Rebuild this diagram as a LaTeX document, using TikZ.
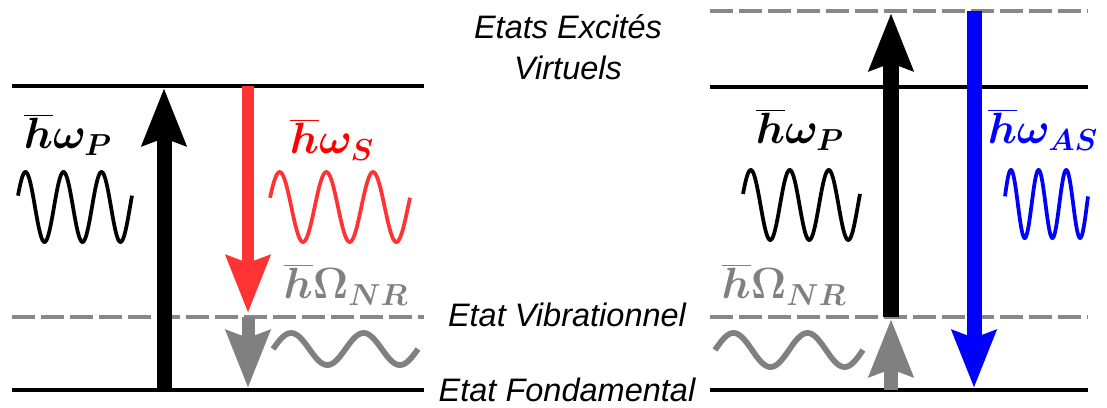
\documentclass[tikz,border=0pt]{standalone}
\usepackage[no-math]{fontspec}
\setmainfont{Liberation Sans}
\usetikzlibrary{arrows.meta}

\definecolor{vermelho}{RGB}{255,51,51}
\definecolor{cinza}{RGB}{128,128,128}
\definecolor{cinzatrac}{RGB}{136,136,136}

\begin{document}
\begin{tikzpicture}[x=0.2mm, y=-0.2mm,
    nivel/.style={line width=0.9mm},
    virtual/.style={line width=0.9mm, cinzatrac, dash pattern=on 4.6mm off 1.2mm},
    seta/.style={-{Stealth[length=11.4mm, width=8.6mm, inset=1.4mm]}},
    onda/.style={line width=0.75mm, samples=150},
    rotulo/.style={font=\fontsize{18.5}{23}\selectfont\itshape, align=center},
    energia/.style={font=\fontsize{27}{31}\selectfont\boldmath, inner sep=0pt}]
    \useasboundingbox (0,0) rectangle (1107,407);

    % niveis da esquerda
    \draw[nivel] (12,86) -- (424,86);
    \draw[virtual] (12,317) -- (424,317);
    \draw[nivel] (12,390) -- (424,390);

    % niveis da direita
    \draw[virtual] (710,11) -- (1088,11);
    \draw[nivel] (710,87) -- (1088,87);
    \draw[virtual] (710,317) -- (1088,317);
    \draw[nivel] (710,390) -- (1088,390);

    % pontos das setas
    \coordinate (pL0) at (164,390);
    \coordinate (pL1) at (164,88);
    \coordinate (sL0) at (248,86);
    \coordinate (sL1) at (248,313);
    \coordinate (vL0) at (248,317);
    \coordinate (vL1) at (248,388);
    \coordinate (vR0) at (891,390);
    \coordinate (vR1) at (891,319);
    \coordinate (pR0) at (891,317);
    \coordinate (pR1) at (891,13);
    \coordinate (aR0) at (974,11);
    \coordinate (aR1) at (974,388);

    % setas
    \draw[seta, line width=3mm] (pL0) -- (pL1);
    \draw[seta, line width=2.4mm, vermelho] (sL0) -- (sL1);
    \draw[seta, line width=2.6mm, cinza] (vL0) -- (vL1);
    \draw[seta, line width=2.8mm, cinza] (vR0) -- (vR1);
    \draw[seta, line width=3.3mm] (pR0) -- (pR1);
    \draw[seta, line width=3mm, blue] (aR0) -- (aR1);

    % ondas
    \draw[onda] plot[domain=18:132] (\x, {207 - 35*sin((\x-16)/38*360)});
    \draw[onda, vermelho] plot[domain=270:410] (\x, {207 - 35*sin((\x-268)/46.67*360)});
    \draw[onda, cinza, line width=1.15mm] plot[domain=273:418] (\x, {349 - 16*sin((\x-273)/72.5*360)});
    \draw[onda] plot[domain=743:860] (\x, {205 - 35*sin((\x-741)/39*360)});
    \draw[onda, blue] plot[domain=1005:1088] (\x, {204 - 34*sin((\x-1004)/27.67*360)});
    \draw[onda, cinza, line width=1.15mm] plot[domain=715:863] (\x, {350 - 17*sin((\x-715)/74*360)});

    % energias
    \node[energia] (hwPL) at (68,135) {$\overline{h}\omega_P$};
    \node[energia, red] (hwS) at (332,140) {$\overline{h}\omega_S$};
    \node[energia, cinza] (hONL) at (346,285) {$\overline{h}\Omega_{NR}$};
    \node[energia] (hwPR) at (800,130) {$\overline{h}\omega_P$};
    \node[energia, blue] (hwAS) at (1043,130) {$\overline{h}\omega_{AS}$};
    \node[energia, cinza] (hONR) at (784,285) {$\overline{h}\Omega_{NR}$};

    % estados
    \node[rotulo] (excit) at (568,47) {Etats Excités\\Virtuels};
    \node[rotulo] (vibr) at (567,315) {Etat Vibrationnel};
    \node[rotulo] (fond) at (567,390) {Etat Fondamental};
\end{tikzpicture}
\end{document}
